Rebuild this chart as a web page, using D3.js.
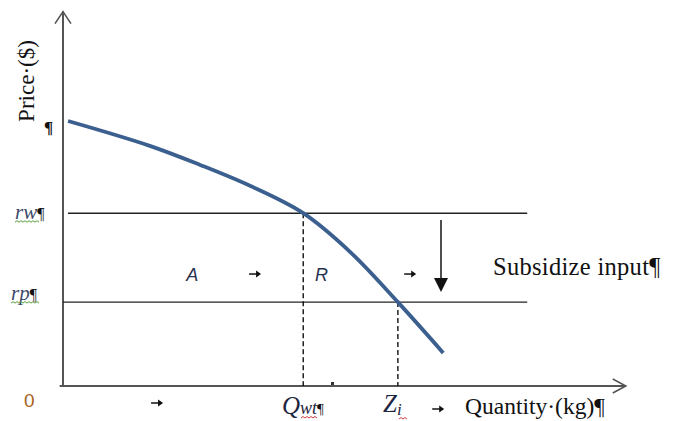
<!DOCTYPE html>
<html>
<head>
<meta charset="utf-8">
<script src="https://cdn.jsdelivr.net/npm/d3@7"></script>
<style>
  html, body { margin: 0; padding: 0; background: #fff; }
  svg { display: block; }
  .serif { font-family: "Liberation Serif", "Times New Roman", serif; }
  .sans { font-family: "Liberation Sans", Arial, sans-serif; }
</style>
</head>
<body>
<svg id="chart" width="676" height="421"></svg>
<script>
// Demand curve for the input: quantity (kg) vs price
const curveQty   = [0.09, 1.55, 2.45, 3.34, 4.29, 5.13, 5.98, 6.79];
const curvePrice = [7.36, 6.67, 6.14, 5.56, 4.80, 3.72, 2.33, 0.92];

// Price levels: rw (world) and rp (subsidised)
const priceLevels = [
  { name: "rw", value: 4.80, start: 0.09 },
  { name: "rp", value: 2.33, start: 0.0 }
];
const levelEnd = 8.29;

// Quantities at each price level
const quantityMarks = [
  { name: "Qwt", qty: 4.29, price: 4.80 },
  { name: "Zi",  qty: 5.98, price: 2.33 }
];

// Subsidy arrow: drop from rw towards rp
const subsidyArrow = { qty: 6.75, from: 4.61, to: 2.61 };

const xMax = 10.05, yMax = 10.4;

const svg = d3.select("#chart");
const x = d3.scaleLinear().domain([0, 10]).range([63, 623]);
const y = d3.scaleLinear().domain([0, 10]).range([386, 26]);

svg.append("rect").attr("width", 676).attr("height", 421).attr("fill", "#fff");

// Axes (drawn as plain lines with open chevron heads)
const axisColor = "#555";
svg.append("line")
  .attr("x1", x(0)).attr("y1", y(-0.03))
  .attr("x2", x(0)).attr("y2", y(yMax))
  .attr("stroke", axisColor).attr("stroke-width", 2);
svg.append("path")
  .attr("d", `M${x(0) - 8},${y(yMax) + 12} L${x(0)},${y(yMax)} L${x(0) + 8},${y(yMax) + 12}`)
  .attr("fill", "none").attr("stroke", axisColor).attr("stroke-width", 1.6);

svg.append("line")
  .attr("x1", x(-0.06)).attr("y1", y(0))
  .attr("x2", x(xMax)).attr("y2", y(0))
  .attr("stroke", axisColor).attr("stroke-width", 2);
svg.append("path")
  .attr("d", `M${x(xMax) - 13},${y(0) - 7} L${x(xMax)},${y(0)} L${x(xMax) - 13},${y(0) + 7}`)
  .attr("fill", "none").attr("stroke", axisColor).attr("stroke-width", 1.6);

// Price level lines
svg.selectAll("line.level")
  .data(priceLevels)
  .join("line")
  .attr("class", "level")
  .attr("x1", d => x(d.start)).attr("x2", x(levelEnd))
  .attr("y1", d => y(d.value)).attr("y2", d => y(d.value))
  .attr("stroke", "#222").attr("stroke-width", 1.4);

// Dashed drop lines to the quantity axis
svg.selectAll("line.drop")
  .data(quantityMarks)
  .join("line")
  .attr("class", "drop")
  .attr("x1", d => x(d.qty)).attr("x2", d => x(d.qty))
  .attr("y1", d => y(d.price)).attr("y2", y(0))
  .attr("stroke", "#111").attr("stroke-width", 1.4)
  .attr("stroke-dasharray", "5,3");

// Demand curve
const pts = curveQty.map((q, i) => [q, curvePrice[i]]);
svg.append("path")
  .datum(pts)
  .attr("d", d3.line().x(d => x(d[0])).y(d => y(d[1])).curve(d3.curveCatmullRom.alpha(0.5)))
  .attr("fill", "none")
  .attr("stroke", "#3b5f8e")
  .attr("stroke-width", 3.8)
  .attr("stroke-linecap", "butt");

// Subsidy arrow
svg.append("line")
  .attr("x1", x(subsidyArrow.qty)).attr("x2", x(subsidyArrow.qty))
  .attr("y1", y(subsidyArrow.from)).attr("y2", y(subsidyArrow.to) - 12)
  .attr("stroke", "#222").attr("stroke-width", 1.6);
svg.append("path")
  .attr("d", `M${x(subsidyArrow.qty) - 7},${y(subsidyArrow.to) - 14} L${x(subsidyArrow.qty) + 7},${y(subsidyArrow.to) - 14} L${x(subsidyArrow.qty)},${y(subsidyArrow.to)} Z`)
  .attr("fill", "#111");

// Small right arrows (→)
function smallArrow(cx, cy) {
  svg.append("line")
    .attr("x1", cx - 6).attr("x2", cx + 3)
    .attr("y1", cy).attr("y2", cy)
    .attr("stroke", "#111").attr("stroke-width", 1.5);
  svg.append("path")
    .attr("d", `M${cx + 1},${cy - 3.5} L${cx + 6},${cy} L${cx + 1},${cy + 3.5} Z`)
    .attr("fill", "#111");
}
smallArrow(x(3.43), y(3.11));
smallArrow(x(6.2), y(3.11));
smallArrow(x(1.68), y(0) + 17);
smallArrow(x(6.7), y(0) + 23);

// Wavy spell-check underline
function squiggle(x0, x1, yy, color) {
  let d = `M${x0},${yy}`;
  let up = true;
  for (let px = x0 + 2; px <= x1; px += 2) {
    d += ` L${px},${yy + (up ? -1.5 : 0)}`;
    up = !up;
  }
  svg.append("path").attr("d", d).attr("fill", "none")
    .attr("stroke", color).attr("stroke-width", 1);
}

// Axis titles
svg.append("text")
  .attr("class", "serif")
  .attr("transform", `translate(34,81) rotate(-90)`)
  .attr("text-anchor", "middle")
  .attr("font-size", 23)
  .attr("fill", "#111")
  .text("Price·($)");

svg.append("text")
  .attr("class", "serif")
  .attr("x", 465).attr("y", 414)
  .attr("font-size", 23.5)
  .attr("fill", "#111")
  .text("Quantity·(kg)¶");

svg.append("text")
  .attr("class", "serif")
  .attr("x", 493).attr("y", 275)
  .attr("font-size", 24.5)
  .attr("fill", "#111")
  .attr("letter-spacing", 0.3)
  .text("Subsidize input¶");

// Price-axis labels
svg.append("text")
  .attr("class", "serif")
  .attr("x", 44).attr("y", y(7.36) + 12)
  .attr("font-size", 17).attr("font-weight", "bold")
  .attr("fill", "#111")
  .text("¶");

priceLevels.forEach((d, i) => {
  const t = svg.append("text")
    .attr("class", "serif")
    .attr("x", i === 0 ? 15 : 11).attr("y", y(d.value) + (i === 0 ? 6 : -2))
    .attr("font-size", 21)
    .attr("fill", "#3d4a6a")
    .attr("font-style", "italic");
  t.append("tspan").text(d.name);
  t.append("tspan").attr("font-style", "normal").attr("font-size", 16).attr("fill", "#111").text("¶");
  squiggle(i === 0 ? 15 : 11, 40, y(d.value) + (i === 0 ? 9 : 1), "#5aa040");
});

svg.append("text")
  .attr("class", "sans")
  .attr("x", 24).attr("y", 407)
  .attr("font-size", 19)
  .attr("fill", "#a8621e")
  .text("0");

// Region labels
svg.append("text")
  .attr("class", "sans")
  .attr("x", x(2.2)).attr("y", y(3.11) + 7)
  .attr("font-size", 18).attr("font-style", "italic")
  .attr("fill", "#2a3150")
  .text("A");
svg.append("text")
  .attr("class", "sans")
  .attr("x", x(4.5)).attr("y", y(3.11) + 7)
  .attr("font-size", 18).attr("font-style", "italic")
  .attr("fill", "#2a3150")
  .text("R");

// Quantity labels
const qw = svg.append("text")
  .attr("class", "serif")
  .attr("x", 282).attr("y", 414)
  .attr("font-style", "italic")
  .attr("fill", "#1d2540");
qw.append("tspan").attr("font-size", 25).text("Q");
qw.append("tspan").attr("font-size", 18).text("wt");
qw.append("tspan").attr("font-size", 15).attr("font-style", "normal").attr("fill", "#111").text("¶");
squiggle(301, 318, 418, "#d04040");

const zi = svg.append("text")
  .attr("class", "serif")
  .attr("x", 383).attr("y", 412)
  .attr("font-style", "italic")
  .attr("fill", "#1d2540");
zi.append("tspan").attr("font-size", 25).text("Z");
zi.append("tspan").attr("font-size", 17).attr("dy", 3).text("i");
squiggle(399, 407, 419, "#d04040");

// Tiny stray mark on the quantity axis
svg.append("rect").attr("x", 331).attr("y", 382).attr("width", 3).attr("height", 3).attr("fill", "#333");
</script>
</body>
</html>
